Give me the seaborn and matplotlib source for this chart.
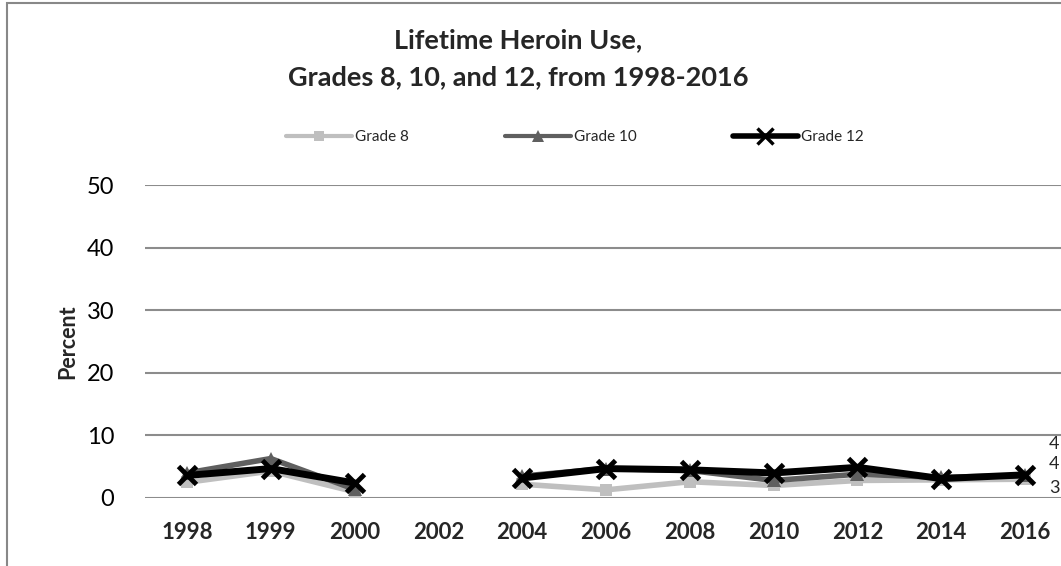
import numpy as np
import pandas as pd
import matplotlib
matplotlib.use("Agg")
import matplotlib.pyplot as plt
import matplotlib.patches as patches
from matplotlib.lines import Line2D
import seaborn as sns

# chart values
years = ['1998', '1999', '2000', '2002', '2004', '2006', '2008', '2010', '2012', '2014', '2016']
grade8 = [2.5, 4.3, 1.0, np.nan, 2.2, 1.3, 2.6, 2.0, 2.8, 2.9, 3.0]
grade10 = [4.0, 6.3, 1.4, np.nan, 3.5, 4.7, 4.4, 2.8, 3.8, 3.3, 3.6]
grade12 = [3.6, 4.7, 2.4, np.nan, 3.2, 4.7, 4.5, 4.0, 4.9, 3.1, 3.7]
series_names = ['Grade 8', 'Grade 10', 'Grade 12']

sns.set_theme(style='white')
plt.rcParams['font.family'] = ['Lato', 'DejaVu Sans']

rows = []
for name, vals in zip(series_names, [grade8, grade10, grade12]):
    seg = 0
    for i, v in enumerate(vals):
        if np.isnan(v):
            seg += 1
            continue
        rows.append({'idx': i, 'year': years[i], 'value': v, 'grade': name, 'seg': seg})
df = pd.DataFrame(rows)

styles = {
    'Grade 8': dict(color='#bfbfbf', marker='s', ms=9, lw=4, mew=0),
    'Grade 10': dict(color='#5f5f5f', marker='^', ms=10, lw=4, mew=0),
    'Grade 12': dict(color='#000000', marker='x', ms=13, lw=5, mew=3.5),
}

fig = plt.figure(figsize=(10.61, 5.66), dpi=100)
ax = fig.add_axes([145 / 1061, 68 / 566, 922 / 1061, 313 / 566])

for name in series_names:
    st = styles[name]
    sub = df[df['grade'] == name]
    sns.lineplot(data=sub, x='idx', y='value', units='seg', estimator=None,
                 color=st['color'], lw=st['lw'], marker=st['marker'],
                 markersize=st['ms'], markeredgewidth=st['mew'],
                 markeredgecolor=st['color'], ax=ax, legend=False, zorder=3)

ax.set_xlim(-0.5, 10.5)
ax.set_ylim(0, 50)
ax.set_yticks(range(0, 51, 10))
ax.set_xticks(range(len(years)))
ax.set_xticklabels(years, fontsize=16, fontweight='bold')
ax.tick_params(axis='y', labelsize=17, pad=22, length=0)
ax.tick_params(axis='x', pad=17, length=0)
for t in ax.get_yticklabels():
    t.set_color('#000000')
ax.grid(axis='y', color='#8c8c8c', lw=1.5)
ax.grid(axis='x', visible=False)
for s in ax.spines.values():
    s.set_visible(False)
ax.set_xlabel('')
ax.set_ylabel('Percent', fontsize=15.5, fontweight='bold', labelpad=6)

# data labels at the last point
offsets = {'Grade 8': -6, 'Grade 10': 8, 'Grade 12': 22}
for name, vals in zip(series_names, [grade8, grade10, grade12]):
    ax.annotate(f"{vals[-1]:.0f}", xy=(10, vals[-1]), xytext=(17, offsets[name]),
                textcoords='offset points', fontsize=13, va='center', ha='left',
                annotation_clip=False)

fig.text(518 / 1061, 1 - 40 / 566, 'Lifetime Heroin Use,', ha='center', va='center',
         fontsize=19.5, fontweight='bold')
fig.text(518 / 1061, 1 - 77 / 566, 'Grades 8, 10, and 12, from 1998-2016', ha='center',
         va='center', fontsize=19.5, fontweight='bold')

handles = []
for name in series_names:
    st = styles[name]
    handles.append(Line2D([], [], color=st['color'], lw=st['lw'] - 1, marker=st['marker'],
                          markersize=st['ms'] - 2, markeredgewidth=st['mew'] * 0.7,
                          markeredgecolor=st['color']))
fig.legend(handles, series_names, loc='center', bbox_to_anchor=(575 / 1061, 1 - 137 / 566),
           ncol=3, frameon=False, fontsize=11, handlelength=4.3, handletextpad=0.2,
           columnspacing=6.3)

# outer chart border (cropped on right and bottom)
fig.patches.append(patches.Rectangle((7 / 1061, -0.1), 1.2, 1.1 - 3 / 566,
                                     transform=fig.transFigure, fill=False,
                                     edgecolor='#888888', lw=1.5))

fig.savefig('out.png', dpi=100)
